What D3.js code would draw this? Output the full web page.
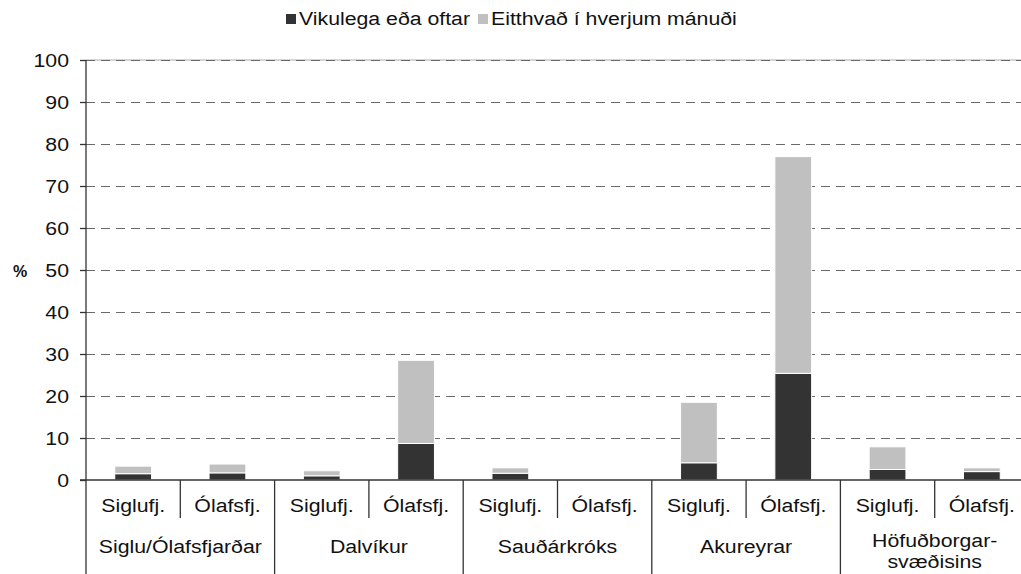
<!DOCTYPE html>
<html>
<head>
<meta charset="utf-8">
<script src="https://cdn.jsdelivr.net/npm/d3@7"></script>
<style>
  body { margin: 0; background: #fff; }
  svg { display: block; font-family: "Liberation Sans", Arial, sans-serif; }
</style>
</head>
<body>
<svg id="chart" width="1021" height="574"></svg>
<script>
var groups = ['Siglu/Ólafsfjarðar', 'Dalvíkur', 'Sauðárkróks', 'Akureyrar', 'Höfuðborgar-\nsvæðisins'];
var subs = ['Siglufj.', 'Ólafsfj.'];
var weekly  = [1.5, 1.7, 1.0, 8.7, 1.6, 0, 4.1, 25.4, 2.5, 2.0];
var monthly = [1.8, 2.1, 1.2, 19.8, 1.3, 0, 14.4, 51.6, 5.4, 0.9];
var seriesNames = ['Vikulega eða oftar', 'Eitthvað í hverjum mánuði'];
var colours = ['#333333', '#c0c0c0'];
var yTicks = [0, 10, 20, 30, 40, 50, 60, 70, 80, 90, 100];

var mLeft = 86, mRight = 1029, mTop = 60, mBottom = 480;
var fs = 19, sx = 1.12;
var svg = d3.select('#chart');

var rows = [];
for (var i = 0; i < weekly.length; i++) {
    rows.push({key: i, w: weekly[i], m: monthly[i]});
}

var x = d3.scaleBand().domain(d3.range(weekly.length)).range([mLeft, mRight]);
var y = d3.scaleLinear().domain([0, 100]).range([mBottom, mTop]);

// text placed at (px,py), stretched a bit wider like the original
function label(g, px, py, txt, anchor) {
    return g.append('text')
        .attr('transform', 'translate(' + px + ',' + py + ') scale(' + sx + ',1)')
        .attr('text-anchor', anchor || 'middle')
        .attr('font-size', fs).attr('fill', '#111')
        .text(txt);
}

// gridlines
svg.append('line').attr('x1', mLeft).attr('x2', mRight).attr('y1', y(100)).attr('y2', y(100))
    .attr('stroke', '#c8c8c8').attr('stroke-width', 1.5);
svg.append('g').selectAll('line').data(yTicks.filter(function(d){return d > 0;}))
    .enter().append('line')
    .attr('x1', mLeft).attr('x2', mRight)
    .attr('y1', function(d){return y(d) + 0.5;}).attr('y2', function(d){return y(d) + 0.5;})
    .attr('stroke', '#6a6a6a').attr('stroke-width', 1.2).attr('stroke-dasharray', '9,6');

// stacked bars
var stack = d3.stack().keys(['w', 'm']);
var layers = stack(rows);
var bw = x.bandwidth() * 0.39;
svg.append('g').selectAll('g').data(layers).enter().append('g')
    .attr('fill', function(d, i){return colours[i];})
    .selectAll('rect').data(function(d){return d;})
    .enter().append('rect')
    .attr('x', function(d, i){return x(i) + x.bandwidth()/2 - bw/2;})
    .attr('width', bw)
    .attr('y', function(d){return y(d[1]);})
    .attr('height', function(d){return Math.max(0, y(d[0]) - y(d[1]));})
    .attr('stroke', '#fff').attr('stroke-width', 1)
    .style('display', function(d){return d[1] - d[0] > 0 ? null : 'none';});

// y axis ticks and labels
var yAxis = d3.axisLeft(y).tickValues(yTicks).tickSize(6).tickFormat('');
var ya = svg.append('g').attr('transform', 'translate(' + mLeft + ',0)').call(yAxis);
ya.select('.domain').remove();
ya.selectAll('line').attr('stroke', '#333').attr('stroke-width', 1.3);
var yl = svg.append('g');
yTicks.forEach(function(t){ label(yl, 69, y(t) + 7, String(t), 'end'); });
svg.append('line').attr('x1', mLeft).attr('x2', mLeft).attr('y1', mTop).attr('y2', 574)
    .attr('stroke', '#333').attr('stroke-width', 1.3);

// x axis line
svg.append('line').attr('x1', mLeft - 6).attr('x2', mRight).attr('y1', mBottom).attr('y2', mBottom)
    .attr('stroke', '#333').attr('stroke-width', 1.3);

// category separators
svg.append('g').selectAll('line').data(d3.range(1, weekly.length))
    .enter().append('line')
    .attr('x1', function(d){return x(d);}).attr('x2', function(d){return x(d);})
    .attr('y1', mBottom)
    .attr('y2', function(d){return d % 2 === 0 ? 574 : 518;})
    .attr('stroke', '#333').attr('stroke-width', 1.3);

// sub labels
var sl = svg.append('g');
rows.forEach(function(d){ label(sl, x(d.key) + x.bandwidth()/2, 512, subs[d.key % 2]); });

// group labels
var gl = svg.append('g');
groups.forEach(function(g, i){
    var parts = g.split('\n');
    var y0 = parts.length > 1 ? 547 : 553;
    parts.forEach(function(p, j){ label(gl, x(i * 2 + 1), y0 + j * 21, p); });
});

// y title
svg.append('text').attr('x', 20).attr('y', 277).attr('text-anchor', 'middle')
    .attr('font-size', 16).attr('font-weight', 'bold').attr('fill', '#111').text('%');

// legend
var legend = svg.append('g');
var lx = [286, 478];
seriesNames.forEach(function(n, i){
    legend.append('rect').attr('x', lx[i]).attr('y', 14).attr('width', 10).attr('height', 10).attr('fill', colours[i]);
    label(legend, lx[i] + 13, 25, n, 'start');
});
</script>
</body>
</html>
